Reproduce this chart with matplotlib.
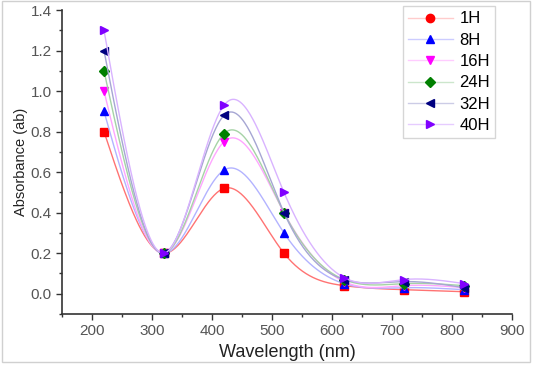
import matplotlib

matplotlib.use("Agg")
import matplotlib.pyplot as plt
import numpy as np
from matplotlib.colors import to_rgb
from matplotlib.lines import Line2D
from matplotlib.patches import Rectangle

plt.rcParams["font.family"] = ["Liberation Sans", "DejaVu Sans"]

wavelength = [220, 320, 420, 520, 620, 720, 820]
labels = ["1H", "8H", "16H", "24H", "32H", "40H"]
abs_1h = [0.80, 0.20, 0.52, 0.20, 0.04, 0.02, 0.01]
abs_8h = [0.90, 0.20, 0.61, 0.30, 0.05, 0.03, 0.02]
abs_16h = [1.00, 0.20, 0.75, 0.40, 0.06, 0.04, 0.03]
abs_24h = [1.10, 0.20, 0.79, 0.40, 0.07, 0.05, 0.04]
abs_32h = [1.20, 0.20, 0.88, 0.40, 0.07, 0.06, 0.03]
abs_40h = [1.30, 0.20, 0.93, 0.50, 0.08, 0.07, 0.05]

colors = ["#ff0000", "#0000ff", "#ff00ff", "#008000", "#000080", "#8000ff"]
markers = ["s", "^", "v", "D", "<", ">"]
legend_markers = ["o", "^", "v", "D", "<", ">"]
marker_sizes = [6, 6, 6, 5, 6, 6]


def pale(c, amount):
    # mix a colour with white
    r = np.array(to_rgb(c))
    return tuple(r * amount + (1 - amount))


def natural_spline(x, y, xs):
    # plain natural cubic spline, no scipy needed
    x = np.asarray(x, float)
    y = np.asarray(y, float)
    n = len(x)
    h = np.diff(x)
    A = np.zeros((n, n))
    b = np.zeros(n)
    A[0, 0] = A[-1, -1] = 1
    for i in range(1, n - 1):
        A[i, i - 1] = h[i - 1]
        A[i, i] = 2 * (h[i - 1] + h[i])
        A[i, i + 1] = h[i]
        b[i] = 3 * ((y[i + 1] - y[i]) / h[i] - (y[i] - y[i - 1]) / h[i - 1])
    c = np.linalg.solve(A, b)
    out = np.empty_like(xs)
    for k, xv in enumerate(xs):
        i = max(min(np.searchsorted(x, xv) - 1, n - 2), 0)
        dx = xv - x[i]
        bi = (y[i + 1] - y[i]) / h[i] - h[i] * (2 * c[i] + c[i + 1]) / 3
        di = (c[i + 1] - c[i]) / (3 * h[i])
        out[k] = y[i] + bi * dx + c[i] * dx**2 + di * dx**3
    return out


fig = plt.figure(figsize=(5.33, 3.65), dpi=100)
ax = fig.add_axes([0.1163, 0.1397, 0.8443, 0.8329])

xs = np.linspace(wavelength[0], wavelength[-1], 400)
series = [abs_1h, abs_8h, abs_16h, abs_24h, abs_32h, abs_40h]
line_strength = [0.55, 0.3, 0.35, 0.35, 0.35, 0.3]
for vals, col, mk, ms, a in zip(series, colors, markers, marker_sizes, line_strength):
    ax.plot(xs, natural_spline(wavelength, vals, xs), color=pale(col, a), lw=1)
    ax.plot(wavelength, vals, ls="none", marker=mk, color=col, ms=ms, mec=col)

handles = [
    Line2D([], [], color=pale(c, 0.2), marker=m, ms=ms, lw=1,
           markerfacecolor=c, markeredgecolor=c)
    for c, m, ms in zip(colors, legend_markers, marker_sizes)
]
leg = ax.legend(handles, labels, loc="upper right", bbox_to_anchor=(0.962, 1.012),
                fontsize=12, frameon=True, fancybox=False, edgecolor="#cccccc",
                handlelength=2.7, labelspacing=0.38, borderpad=0.3,
                handletextpad=0.4, borderaxespad=0)
leg.get_frame().set_linewidth(1)

ax.set_xlim(150, 900)
ax.set_ylim(-0.1, 1.4)
ax.set_xticks(np.arange(200, 901, 100))
ax.set_xticks(np.arange(150, 901, 50), minor=True)
ax.set_yticks(np.arange(0, 1.41, 0.2))
ax.set_yticks(np.arange(-0.1, 1.41, 0.1), minor=True)
ax.set_yticklabels([f"{v:.1f}" for v in np.arange(0, 1.41, 0.2)])
ax.tick_params(which="major", direction="out", length=4, width=1, labelsize=11,
               labelcolor="#555555", color="#333333")
ax.tick_params(which="minor", direction="out", length=2, width=1, color="#333333")
for s in ["top", "right"]:
    ax.spines[s].set_visible(False)
for s in ["left", "bottom"]:
    ax.spines[s].set_linewidth(1.2)
    ax.spines[s].set_color("#333333")

ax.set_xlabel("Wavelength (nm)", fontsize=13, color="#222222", labelpad=4)
ax.set_ylabel("Absorbance (ab)", fontsize=10.5, color="#222222", labelpad=2)

fig.patches.append(Rectangle((0.004, 0.008), 0.99, 0.988, transform=fig.transFigure,
                             fill=False, edgecolor="#d0d0d0", lw=1))

fig.savefig("out.png", dpi=100)
